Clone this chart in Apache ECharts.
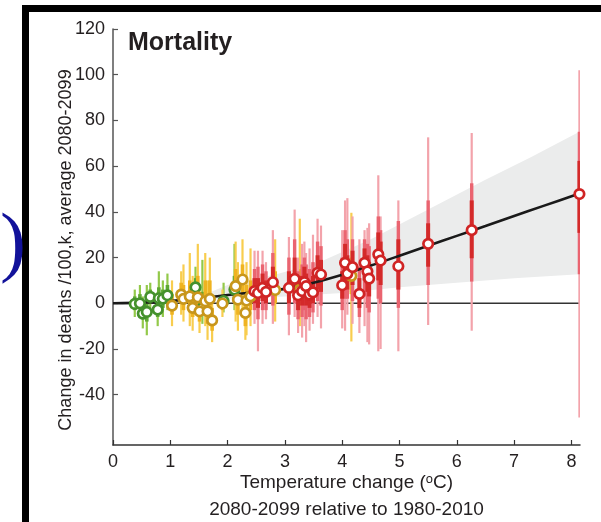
<!DOCTYPE html>
<html><head><meta charset="utf-8">
<script src="https://cdn.jsdelivr.net/npm/echarts@6/dist/echarts.min.js"></script>
<style>html,body{margin:0;padding:0;background:#fff}#c{width:601px;height:522px}</style>
</head><body><div id="c"></div>
<script>
// ---------- data ----------
const xTicks = [0, 1, 2, 3, 4, 5, 6, 7, 8];
const yTicks = [-40, -20, 0, 20, 40, 60, 80, 100, 120];

// green models
const gX    = [0.38, 0.47, 0.52, 0.59, 0.65, 0.78, 0.80, 0.87, 0.95, 1.44, 1.56, 1.93, 2.12];
const gY    = [-0.3, 0.0, -4.5, -3.8, 2.8, -2.8, 2.2, 2.0, 3.5, 7.0, -2.0, 1.0, 6.0];
const gLo   = [-6, -5, -11, -14, -3, -10, -5, -6, -3, -4, -9, -4, -3];
const gHi   = [6, 8, 3, 8, 9, 5, 14, 10, 13, 16, 19, 9, 26];
const gInLo = [-3, -2, -7, -8, 0, -6, -1, -2, 0, 2, -5, -1, 1];
const gInHi = [3, 4, -1, 2, 6, 1, 7, 6, 8, 11, 5, 4, 12];

// gold models
const yX    = [1.03, 1.19, 1.23, 1.34, 1.39, 1.48, 1.51, 1.61, 1.65, 1.69, 1.73, 1.91, 2.14, 2.18, 2.26, 2.31, 2.33, 2.40, 2.83, 3.26, 4.16];
const yY    = [-1.0, 3.8, 1.9, 3.0, -2.0, 2.6, -3.5, 0.9, -3.5, 1.9, -7.5, -0.1, 7.5, 1.6, 10.4, -4.2, 1.2, 3.0, 5.8, 6.0, 12.0];
const yLo   = [-10, -5, -8, -10, -12, -6, -13, -10, -16, -10, -17, -6, -8, -12, -5, -16, -14, -10, -8, -10, -16.7];
const yHi   = [10, 14, 17, 22, 12, 26, 8, 22, 10, 20, 3, 6, 27, 18, 28, 8, 18, 24, 28, 37, 39.6];
const yInLo = [-5, 0, -3, -3, -6, -2, -8, -5, -9, -4, -12, -3, 0, -5, 4, -10, -6, -3, 0, 0, 4];
const yInHi = [4, 9, 8, 10, 4, 12, 2, 10, 3, 10, -2, 3, 15, 9, 17, 1, 8, 10, 14, 15, 20];

// red models
const rX     = [2.47, 2.53, 2.61, 2.67, 2.79, 3.07, 3.17, 3.23, 3.30, 3.34, 3.37, 3.43, 3.49, 3.57, 3.63, 4.00, 4.05, 4.09, 4.18, 4.30, 4.39, 4.44, 4.47, 4.63, 4.67, 4.98, 5.50, 6.26, 8.14];
const rY     = [5.3, 4.5, 6.7, 5.0, 9.2, 6.7, 10.7, 3.5, 5.3, 9.2, 7.5, 3.8, 4.8, 13.3, 12.6, 7.9, 17.7, 13.0, 15.8, 4.1, 17.7, 14.0, 10.8, 21.4, 18.7, 16.2, 26.0, 32.0, 47.8];
const rLo    = [-9, -21, -9, -7, -9, -14, -6, -13, -15, -10, -17, -12, -9, -6, -11, -11, -12, -5, -9, -13, -10, -17, -18, -21, -20, -21, -9.5, -12, -50];
const rHi    = [23, 23, 23, 18, 32, 29, 41, 20, 26, 27, 22, 24, 30, 37, 34, 32, 45, 46, 38, 28, 32, 33, 35, 56, 38, 45, 72.6, 74.5, 102];
const rMidLo = [-3, -7, -3, -3, -1, -5, 0, -7, -6, -3, -7, -6, -4, 1, -1, -3, 2, 2, 1, -6, 3, -2, -4, 2, 0, -2, 8, 9.5, 12.7];
const rMidHi = [15, 16, 17, 14, 22, 20, 28, 14, 17, 20, 17, 15, 18, 27, 25, 20, 32, 28, 28, 16, 28, 26, 25, 38, 32, 36, 45, 52.5, 75];
const rInLo  = [0, -2, 1, 0, 4, 0, 4, -3, -1, 3, -1, -2, 0, 6, 5, 2, 9, 6, 8, -2, 10, 5, 3, 10, 8, 6, 16, 19.7, 30.8];
const rInHi  = [11, 11, 13, 10, 16, 14, 20, 10, 12, 16, 13, 10, 12, 21, 19, 14, 26, 21, 23, 11, 24, 21, 18, 31, 27, 28, 35, 45, 62.3];

// fitted curve
const fitX = [0, 0.5, 1, 1.5, 2, 2.5, 3, 3.5, 4, 4.5, 5, 5.5, 6, 6.5, 7, 7.5, 8.14];
const fitY = [0, 0.3, 1.0, 2.2, 3.6, 4.9, 6.3, 9.0, 12.5, 16.5, 20.8, 25.2, 29.5, 33.8, 38.2, 42.5, 48.0];

// uncertainty band
const bandUpX = [1.4, 2.0, 2.9, 3.6, 4.5, 5.5, 6.5, 7.3, 8.14];
const bandUpY = [1.8, 8, 13, 18, 28, 41, 54, 64, 75];
const bandLoX = [1.4, 2.0, 3.0, 4.0, 5.0, 6.0, 7.0, 8.14];
const bandLoY = [1.2, 2, 3, 4.5, 7, 9, 11, 12.7];

// ---------- chart ----------
const FONT = 'Liberation Sans, DejaVu Sans, sans-serif';
const TXT = '#231f20';
const chart = echarts.init(document.getElementById('c'), null, {renderer: 'canvas'});

function bars(xs, lo, hi, width, color, z) {
  return {
    type: 'custom', z: z, silent: true, clip: true,
    data: xs.map((x, i) => [x, lo[i], hi[i]]),
    encode: {x: 0, y: [1, 2]},
    renderItem(params, api) {
      const p1 = api.coord([api.value(0), api.value(1)]);
      const p2 = api.coord([api.value(0), api.value(2)]);
      return {type: 'line', shape: {x1: p1[0], y1: p1[1], x2: p2[0], y2: p2[1]},
        style: {stroke: color, lineWidth: width}};
    }
  };
}
function markers(xs, ys, color, z) {
  return {
    type: 'scatter', z: z, silent: true, symbol: 'circle', symbolSize: 9.5,
    data: xs.map((x, i) => [x, ys[i]]),
    itemStyle: {color: '#ffffff', borderColor: color, borderWidth: 2.7, opacity: 1}
  };
}

const bandPoly = bandUpX.map((x, i) => [x, bandUpY[i]])
  .concat(bandLoX.map((x, i) => [x, bandLoY[i]]).reverse());

const option = {
  animation: false,
  backgroundColor: '#ffffff',
  title: {text: 'Mortality', left: 123, top: 26,
    textStyle: {fontFamily: FONT, fontSize: 25, fontWeight: 'bold', color: TXT}},
  grid: {left: 113, right: 21, top: 29, bottom: 77, containLabel: false, outerBoundsMode: 'none'},
  xAxis: {
    type: 'value', min: 0, max: 8.15,
    name: 'Temperature change (ᵒC)\n2080-2099 relative to 1980-2010',
    nameLocation: 'middle', nameGap: 24, nameMoveOverlap: false,
    nameTextStyle: {fontFamily: FONT, fontSize: 19, color: TXT, lineHeight: 27},
    axisLine: {onZero: false, lineStyle: {color: '#333', width: 1.5}},
    axisTick: {inside: true, length: 5, customValues: xTicks, lineStyle: {color: '#333', width: 1.2}},
    axisLabel: {customValues: xTicks, fontFamily: FONT, fontSize: 18, color: TXT, margin: 8},
    splitLine: {show: false}
  },
  yAxis: {
    type: 'value', min: -62, max: 120,
    name: 'Change in deaths /100,k, average 2080-2099',
    nameLocation: 'middle', nameGap: 38, nameMoveOverlap: false,
    nameTextStyle: {fontFamily: FONT, fontSize: 18, color: TXT, padding: [0, 26, 0, 0]},
    axisLine: {show: true, onZero: false, lineStyle: {color: '#555', width: 1.5}},
    axisTick: {show: true, inside: true, length: 5, customValues: yTicks, lineStyle: {color: '#555', width: 1.2}},
    axisLabel: {customValues: yTicks, fontFamily: FONT, fontSize: 18, color: TXT, margin: 8},
    splitLine: {show: false}
  },
  graphic: [
    {type: 'rect', shape: {x: 22, y: 5, width: 7, height: 517, r: 0}, style: {fill: '#000'}, z: 100},
    {type: 'rect', shape: {x: 22, y: 5, width: 579, height: 7, r: 0}, style: {fill: '#000'}, z: 100},
    {type: 'text', x: 0, y: 208, style: {text: ')', font: '78px "Liberation Serif"', fill: '#12129a'}, z: 100}
  ],
  series: [
    {
      type: 'custom', z: 1, silent: true, clip: true,
      data: [0],
      renderItem(params, api) {
        return {type: 'polygon', shape: {points: bandPoly.map(p => api.coord(p))},
          style: {fill: '#ebecec'}};
      }
    },
    {type: 'line', z: 2, silent: true, symbol: 'none', data: [[0, 0], [8.15, 0]],
      lineStyle: {color: '#333', width: 1.5}},
    bars(gX, gLo, gHi, 2.2, '#93c94a', 3),
    bars(gX, gInLo, gInHi, 3.6, '#5ea832', 3),
    bars(yX, yLo, yHi, 2.2, '#f8cd4e', 4),
    bars(yX, yInLo, yInHi, 3.6, '#efb320', 4),
    bars(rX, rLo, rHi, 2.2, '#f3a3ab', 5),
    bars(rX, rMidLo, rMidHi, 3.4, '#ea6470', 5),
    bars(rX, rInLo, rInHi, 4, '#d42a2a', 5),
    {type: 'line', z: 6, silent: true, symbol: 'none', smooth: 0.3,
      data: fitX.map((x, i) => [x, fitY[i]]), lineStyle: {color: '#1a1a1a', width: 2.6}},
    markers(gX, gY, '#45912c', 7),
    markers(yX, yY, '#c8961c', 8),
    markers(rX, rY, '#d02424', 9)
  ]
};
chart.setOption(option);
</script>
</body></html>
